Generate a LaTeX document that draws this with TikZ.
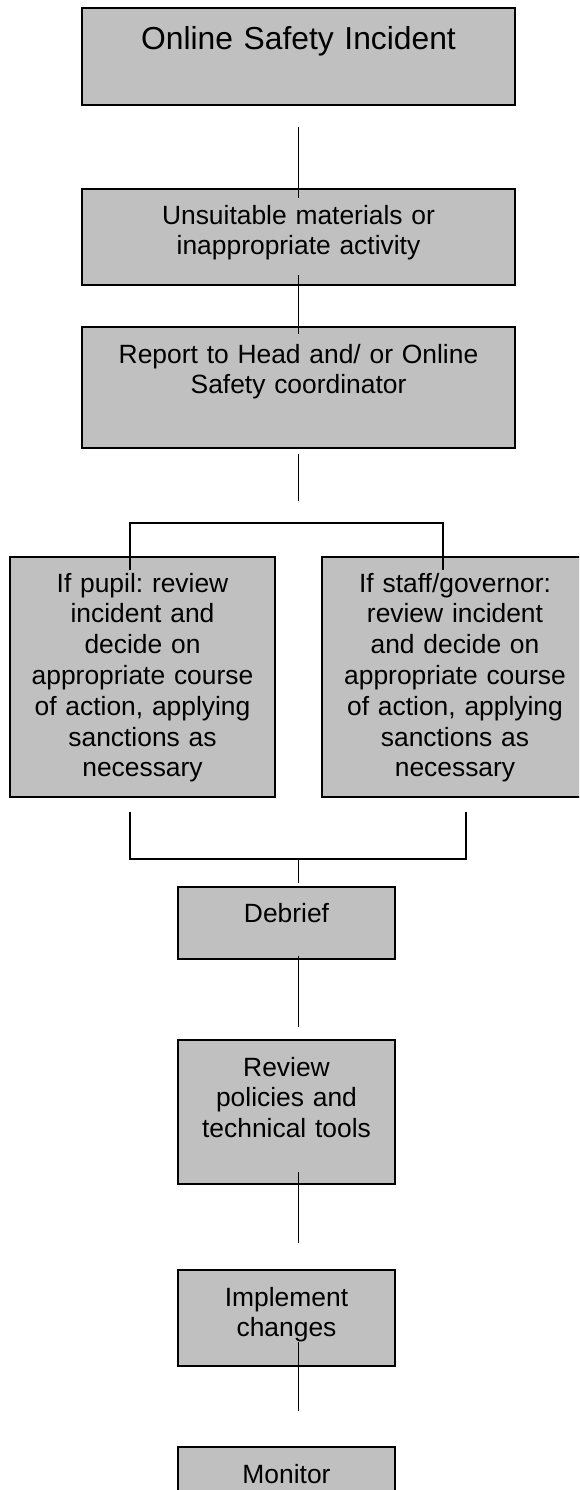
\documentclass[tikz,border=0pt]{standalone}
\usepackage{fontspec}
\setmainfont{Liberation Sans}
\frenchspacing
\definecolor{boxgrey}{HTML}{C0C0C0}

\begin{document}
\begin{tikzpicture}[
        x=1pt, y=-1pt,
        stage/.style = {draw, fill=boxgrey, line width=1.6pt, inner sep=0pt, outer sep=0pt,
                        anchor=north, align=center, text width=#1,
                        font=\fontsize{26.4}{30.8}\selectfont},
        stage/.default = 433pt,
        link/.style = {line width=1.4pt}
    ]
        \useasboundingbox (0,0) rectangle (579,1490);
        \clip (0,0) rectangle (579,1490);

        \node[stage, text height=42pt, text depth=55pt, font=\fontsize{31.8}{38}\selectfont]
            (incident) at (298.5,8) {Online Safety Incident};
        \node[stage, text height=35pt, text depth=61pt] (unsuit) at (298.5,189)
            {Unsuitable materials or\\inappropriate activity};
        \node[stage, text height=36pt, text depth=85pt] (report) at (298.5,327)
            {Report to Head and/ or Online\\Safety coordinator};
        \node[stage=265pt, text height=35pt, text depth=205pt] (pupil) at (142.5,557)
            {If pupil: review\\incident and\\decide on\\appropriate course\\of action, applying\\sanctions as\\necessary};
        \node[stage=266pt, text height=35pt, text depth=205pt] (staff) at (455,557)
            {If staff/governor:\\review incident\\and decide on\\appropriate course\\of action, applying\\sanctions as\\necessary};
        \node[stage=217pt, text height=35pt, text depth=37pt] (debrief) at (286.5,887) {Debrief};
        \node[stage=217pt, text height=36pt, text depth=108pt] (review) at (286.5,1040)
            {Review\\policies and\\technical tools};
        \node[stage=217pt, text height=36pt, text depth=60pt] (implement) at (286.5,1270)
            {Implement\\changes};
        \node[stage=217pt, text height=36pt, text depth=70pt] (monitor) at (286.5,1447) {Monitor};

        \coordinate (fork) at (298.5,501);
        \coordinate (legl) at (130,523);
        \coordinate (legr) at (443,523);
        \coordinate (merge) at (298.5,859);
        \coordinate (mergel) at (130,859);
        \coordinate (merger) at (466,859);

        \draw[link, shorten <=22pt, shorten >=-9pt] (incident.south) -- (unsuit.north);
        \draw[link, shorten <=-10pt, shorten >=-7pt] (unsuit.south) -- (report.north);
        \draw[link, shorten <=6pt] (report.south) -- (fork);
        \draw[link, shorten <=-13pt, shorten >=-13pt] (legl |- pupil.north) -- (legl) -- (legr) -- (legr |- staff.north);
        \draw[link, shorten <=15pt, shorten >=15pt] (mergel |- pupil.south) -- (mergel) -- (merger) -- (merger |- staff.south);
        \draw[link, shorten >=4pt] (merge) -- (debrief.north -| merge);
        \draw[link, shorten <=-3pt, shorten >=13pt] (debrief.south -| merge) -- (review.north -| merge);
        \draw[link, shorten <=-12pt, shorten >=27pt] (review.south -| merge) -- (implement.north -| merge);
        \draw[link, shorten <=-24pt, shorten >=36pt] (implement.south -| merge) -- (monitor.north -| merge);
    \end{tikzpicture}
\end{document}
